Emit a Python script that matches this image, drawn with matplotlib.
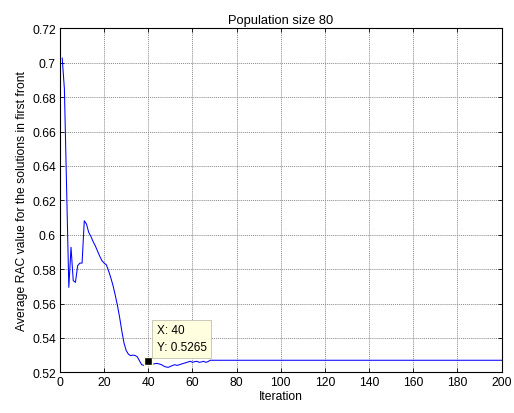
import matplotlib
matplotlib.use('Agg')
from matplotlib import pyplot as plt
from matplotlib.ticker import FuncFormatter
import numpy as np

# values
iteration = [1, 2, 3, 4, 5, 6, 7, 8, 9, 10, 11, 12, 13, 14, 15, 16, 17, 18, 19, 20,
             21, 22, 23, 24, 25, 26, 27, 28, 29, 30, 31, 32, 33, 34, 35, 36, 37, 38, 39, 40,
             41, 42, 43, 44, 45, 46, 47, 48, 49, 50, 51, 52, 53, 54, 55, 56, 57, 58, 59, 60,
             61, 62, 63, 64, 65, 66, 67, 68, 200]
rac = [0.7027, 0.6847, 0.627, 0.5694, 0.5927, 0.5733, 0.5723, 0.582, 0.5835, 0.5835,
       0.6081, 0.6062, 0.6014, 0.5990, 0.5960, 0.5935, 0.5905, 0.5875, 0.5849, 0.5835,
       0.5825, 0.5790, 0.5750, 0.5705, 0.5650, 0.5590, 0.5520, 0.5440, 0.5370, 0.5326,
       0.5305, 0.5297, 0.5300, 0.5298, 0.5290, 0.5267, 0.5244, 0.5240, 0.5252, 0.5265,
       0.5255, 0.5248, 0.5250, 0.5252, 0.5248, 0.5244, 0.5236, 0.5231, 0.5229, 0.5234,
       0.5240, 0.5244, 0.5240, 0.5244, 0.5248, 0.5252, 0.5256, 0.5260, 0.5264, 0.5258,
       0.5262, 0.5264, 0.5258, 0.5260, 0.5264, 0.5258, 0.5262, 0.5270, 0.5270]

tip_x = 40
tip_y = 0.5265

xticks_v = list(range(0, 201, 20))
yticks_v = [0.52, 0.54, 0.56, 0.58, 0.6, 0.62, 0.64, 0.66, 0.68, 0.7, 0.72]

plt.rcParams['font.family'] = ['Liberation Sans', 'DejaVu Sans']
plt.rcParams['font.size'] = 8.7

fig = plt.figure(figsize=(5.14, 4.14), dpi=100)
ax = fig.add_axes([0.1167, 0.0983, 0.8593, 0.8309])

ax.plot(iteration, rac, color=(0, 0, 1), linewidth=0.75)

# data tip
ax.plot([tip_x], [tip_y], marker='s', markersize=6, color='k',
        markeredgecolor=(1, 1, 0.88), markeredgewidth=1, linestyle='none', zorder=5)
ax.annotate('X: %d\nY: %.4f' % (tip_x, tip_y), xy=(tip_x, tip_y),
            xytext=(6, 6), textcoords='offset points', ha='left', va='bottom',
            fontsize=8.5, linespacing=1.5,
            bbox=dict(boxstyle='square,pad=0.4', fc=(1, 1, 0.88), ec=(0.75, 0.75, 0.7), lw=0.6),
            zorder=6)

ax.set_xlim(0, 200)
ax.set_ylim(0.52, 0.72)
ax.set_xticks(xticks_v)
ax.set_yticks(yticks_v)
ax.yaxis.set_major_formatter(FuncFormatter(lambda v, p: '%g' % round(v, 2)))
ax.tick_params(direction='in', top=True, right=True, length=3, width=0.6,
               labelsize=8.7, pad=3)
ax.grid(True, color='#8a8a8a', linestyle=(0, (1, 1)), linewidth=0.7)
for s in ax.spines.values():
    s.set_linewidth(0.8)

ax.set_title('Population size 80', fontsize=9.3, pad=4)
ax.set_xlabel('Iteration', fontsize=8.7, labelpad=1)
ax.set_ylabel('Average RAC value for the solutions in first front', fontsize=8.7, labelpad=3)

fig.savefig('out.png', dpi=100)
